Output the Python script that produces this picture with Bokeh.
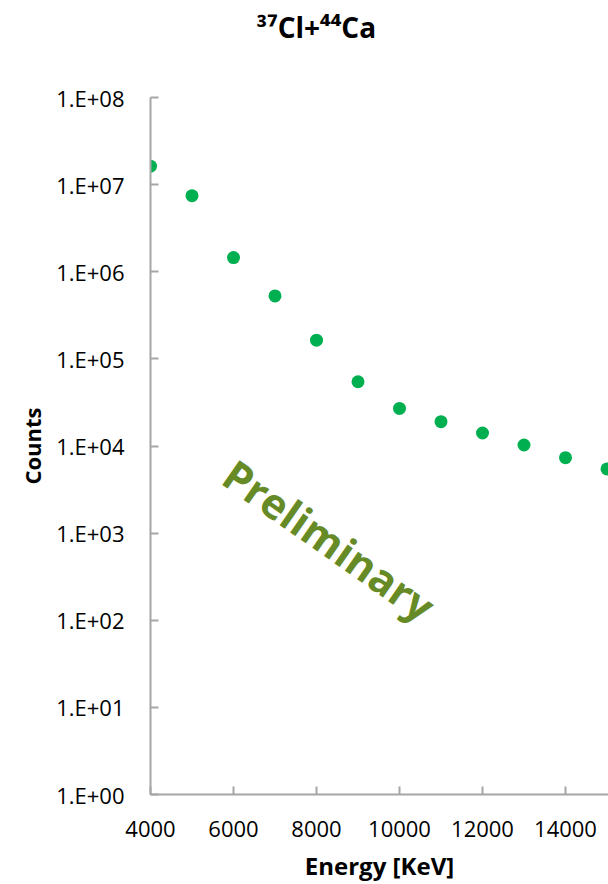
import math
from bokeh.plotting import figure
from bokeh.models import Range1d, FixedTicker, CustomJSTickFormatter, Label, Title
from bokeh.embed import file_html
from bokeh.resources import INLINE

# ---- data ----
energy_kev = [4000, 5000, 6000, 7000, 8000, 9000, 10000, 11000, 12000, 13000, 14000, 15000]
counts = [1.63e7, 7.47e6, 1.455e6, 5.28e5, 1.64e5, 5.46e4, 2.70e4, 1.90e4, 1.41e4, 1.027e4, 7.35e3, 5.45e3]
x_ticks = [4000, 6000, 8000, 10000, 12000, 14000]
y_ticks = [1, 10, 100, 1e3, 1e4, 1e5, 1e6, 1e7, 1e8]
title_text = "\u00b3\u2077Cl+\u2074\u2074Ca"

FONT = "Open Sans"
W, H = 608, 884
LEFT, TOP = 150, 97
BOTTOM = H - 795
X0, X1 = 4000, 15036
Y0, Y1 = 1, 1e8

p = figure(width=W, height=H, output_backend="svg", toolbar_location=None,
           y_axis_type="log", x_range=Range1d(X0, X1), y_range=Range1d(Y0, Y1),
           min_border_left=LEFT, min_border_right=0, min_border_top=TOP,
           min_border_bottom=BOTTOM)
p.outline_line_color = None
p.xgrid.visible = False
p.ygrid.visible = False
p.background_fill_color = "white"
p.border_fill_color = "white"

p.title = Title(text=title_text, align="left", offset=106, standoff=4,
                text_font=FONT, text_font_style="bold", text_font_size="28px",
                text_color="black")
# invisible spacer between title and plot area
p.add_layout(Title(text=" ", text_font=FONT, text_font_size="28px", standoff=10), "above")

p.scatter(energy_kev, counts, size=13, color="#00B050", line_color=None)

axis_col = "#A6A6A6"
for ax in (p.xaxis[0], p.yaxis[0]):
    ax.axis_line_color = axis_col
    ax.axis_line_width = 2
    ax.major_tick_line_color = axis_col
    ax.major_tick_line_width = 2
    ax.major_tick_in = 8
    ax.major_tick_out = 0
    ax.minor_tick_line_color = None
    ax.major_label_text_font = FONT
    ax.major_label_text_font_size = "22px"
    ax.major_label_text_color = "black"
    ax.axis_label_text_font = FONT
    ax.axis_label_text_font_style = "bold"
    ax.axis_label_text_color = "black"

p.xaxis[0].ticker = FixedTicker(ticks=x_ticks)
p.xaxis[0].major_label_standoff = 26
p.xaxis[0].axis_label = "Energy [KeV]"
p.xaxis[0].axis_label_text_font_size = "24px"
p.xaxis[0].axis_label_standoff = 9

p.yaxis[0].ticker = FixedTicker(ticks=y_ticks, minor_ticks=[])
p.yaxis[0].formatter = CustomJSTickFormatter(code="""
const e = Math.round(Math.log10(tick));
return '1.E' + (e < 0 ? '-' : '+') + String(Math.abs(e)).padStart(2, '0');
""")
p.yaxis[0].major_label_standoff = 26
p.yaxis[0].axis_label = "Counts"
p.yaxis[0].axis_label_text_font_size = "22px"
p.yaxis[0].axis_label_standoff = 6

# helpers: canvas pixel -> data coordinates (for the watermark annotation only)
FRAME_W = W - LEFT
FRAME_H = H - TOP - BOTTOM
def px_x(px):
    return X0 + (px - LEFT) / FRAME_W * (X1 - X0)
def px_y(py):
    f = (py - TOP) / FRAME_H
    return 10 ** (math.log10(Y1) - f * (math.log10(Y1) - math.log10(Y0)))

# watermark
p.add_layout(Label(x=px_x(329), y=px_y(540), text="Preliminary", text_font=FONT,
                   text_font_style="bold", text_font_size="42px",
                   text_color="#668A26", text_align="center",
                   text_baseline="middle", angle=-math.radians(35)))

open("out.html", "w").write(file_html(p, INLINE))
